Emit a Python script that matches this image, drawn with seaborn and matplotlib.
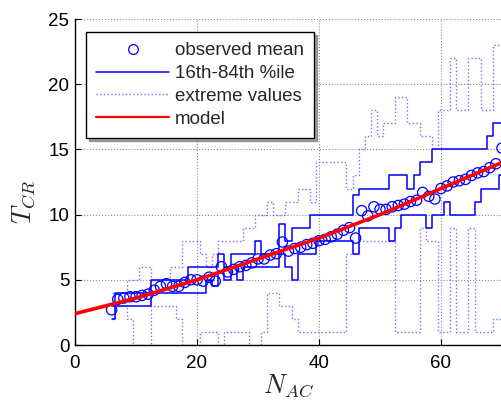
import numpy as np
import pandas as pd
import matplotlib
matplotlib.use("Agg")
import matplotlib.pyplot as plt
import seaborn as sns
from matplotlib.lines import Line2D

# ---- data ----
n_ac = list(range(6, 71))
obs_mean = [2.7, 3.5, 3.6, 3.7, 3.7, 3.8, 3.9, 4.2, 4.5, 4.7, 4.5, 4.5, 4.8, 5.0, 5.0,
            4.9, 5.2, 4.9, 6.0, 5.6, 5.8, 6.0, 6.1, 6.3, 6.6, 6.6, 6.9, 7.0, 7.9, 7.2,
            7.4, 7.5, 7.7, 7.8, 8.0, 8.1, 8.3, 8.5, 8.8, 9.0, 8.2, 10.3, 9.9, 10.6, 10.4,
            10.4, 10.6, 10.7, 10.8, 11.0, 11.1, 11.7, 11.4, 11.2, 12.0, 12.2, 12.5, 12.6, 12.7, 13.0,
            13.2, 13.3, 13.6, 13.9, 15.1]
p16 = [2, 3, 3, 3, 3, 3, 3, 4, 4, 4, 4, 4, 4, 4, 4,
       4, 5, 4.5, 5.5, 5, 6, 5, 6, 6, 6, 6, 6, 6, 7, 6,
       5, 7, 7, 7, 8, 8, 8, 8, 8, 8, 7, 9, 9, 9, 9,
       9, 8, 9, 10, 10, 10, 10, 9, 10, 10, 11, 10, 10, 10, 10,
       11, 12, 12, 12, 13]
p84 = [3, 4, 4, 4, 4, 4, 4, 5, 5, 5, 5, 5, 5, 6, 6,
       6, 6, 6, 7, 6, 7, 7, 7, 7, 8, 7, 7, 7, 9.3, 8,
       9, 9, 9, 10, 10, 10, 10, 10, 10, 10, 11.5, 12, 12, 12, 12,
       12, 13, 13, 13, 12, 13, 14, 14, 15, 15, 15, 15, 15, 15, 15,
       15, 15, 16, 17, 17]
ext_min = [2, 3, 3, 2, 0, 0, 0, 3, 3, 3, 3, 2, 0, 0, 0,
           1, 1, 1, 0, 1, 1, 1, 1, 0, 0, 1, 4, 4, 3, 3,
           2, 1, 1, 1, 1, 1, 1, 1, 1, 7, 7, 8, 8, 8, 8,
           8, 8, 1, 1, 1, 1, 9, 8, 8, 1, 1, 9, 1, 1, 9,
           1, 1, 1, 2, 2]
ext_max = [4, 4, 4, 5, 5, 6, 6, 5, 5, 5, 6, 6, 8, 8, 8,
           7, 6, 7, 8, 8, 8, 8, 9, 9, 10, 10, 11, 10, 10, 11,
           11, 12, 12, 11, 14, 14, 14, 14, 14, 12, 13, 15, 16, 18, 16,
           17, 17, 19, 19, 17, 17, 16, 16, 15, 18, 18, 22, 18, 18, 22,
           22, 18, 18, 23, 23]
model_x = [0, 5, 10, 15, 20, 25, 30, 35, 40, 45, 50, 55, 60, 65, 70]
model_y = [2.4, 3.0, 3.6, 4.3, 5.0, 5.8, 6.6, 7.4, 8.2, 9.1, 10.0, 11.0, 12.0, 13.0, 14.0]

df = pd.DataFrame({"n": n_ac, "mean": obs_mean, "p16": p16, "p84": p84,
                   "mn": ext_min, "mx": ext_max})
dm = pd.DataFrame({"x": model_x, "y": model_y})

sns.set_style("white")
plt.rcParams["font.family"] = ["Liberation Sans", "DejaVu Sans"]
plt.rcParams["mathtext.fontset"] = "cm"

fig = plt.figure(figsize=(5.02, 4.01), dpi=100)
ax = fig.add_axes([75 / 502, 1 - 345 / 401, 427 / 502, 326 / 401])

blue = "#0000ff"
light = "#7070ff"

for col in ["mn", "mx"]:
    sns.lineplot(data=df, x="n", y=col, ax=ax, color=light, linestyle=":",
                 linewidth=1.0, drawstyle="steps-mid", estimator=None, legend=False)
for col in ["p16", "p84"]:
    sns.lineplot(data=df, x="n", y=col, ax=ax, color=blue, linestyle="-",
                 linewidth=1.1, drawstyle="steps-mid", estimator=None, legend=False)
sns.scatterplot(data=df, x="n", y="mean", ax=ax, marker="o", s=55,
                facecolor="none", edgecolor=blue, linewidth=0.9, legend=False, zorder=4)
sns.lineplot(data=dm, x="x", y="y", ax=ax, color="#ff0000", linewidth=2.6,
             estimator=None, legend=False, zorder=5)

ax.set_xlim(0, 70)
ax.set_ylim(0, 25)
ax.set_xticks([0, 20, 40, 60])
ax.set_yticks([0, 5, 10, 15, 20, 25])
ax.grid(True, linestyle=":", color="0.55", linewidth=0.8)
ax.set_axisbelow(True)
for s in ["top", "right"]:
    ax.spines[s].set_visible(False)
for s in ["left", "bottom"]:
    ax.spines[s].set_color("black")
    ax.spines[s].set_linewidth(1.0)
ax.tick_params(direction="in", length=4, width=0.8, labelsize=13.5,
               bottom=True, left=True, top=False, right=False, colors="black")
ax.tick_params(axis="x", pad=7)
ax.tick_params(axis="y", pad=4)

ax.set_xlabel(r"$N_{AC}$", fontsize=19, labelpad=0)
ax.set_ylabel(r"$T_{CR}$", fontsize=19)
ax.yaxis.set_label_coords(-0.09, 0.44)

handles = [
    Line2D([], [], linestyle="none", marker="o", markerfacecolor="none",
           markeredgecolor=blue, markersize=7, markeredgewidth=0.9),
    Line2D([], [], color=blue, linewidth=1.1),
    Line2D([], [], color=light, linewidth=1.0, linestyle=":"),
    Line2D([], [], color="#ff0000", linewidth=1.6),
]
labels = ["observed mean", "16th-84th %ile", "extreme values", "model"]
leg = ax.legend(handles, labels, loc="upper left", bbox_to_anchor=(0.026, 0.96),
                borderaxespad=0, fontsize=13.5, handlelength=3.85, handletextpad=0.32,
                labelspacing=0.3, borderpad=0.55, frameon=True, fancybox=False,
                shadow=True, framealpha=1)
leg.get_frame().set_edgecolor("black")
leg.get_frame().set_linewidth(1.0)

fig.savefig("out.png", dpi=100)
